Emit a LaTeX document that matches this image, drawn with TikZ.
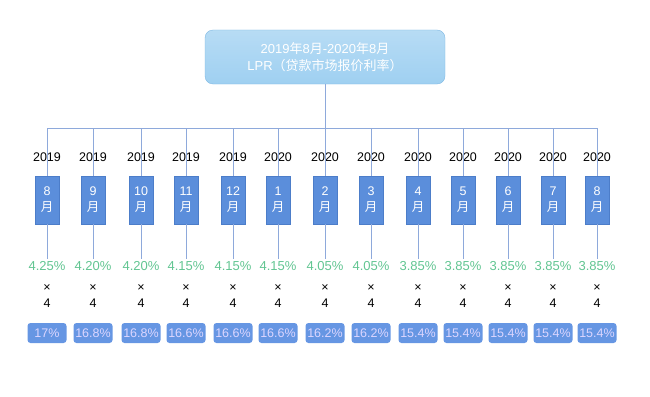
\documentclass[tikz,border=0pt]{standalone}
\usepackage{fontspec}
\setmainfont{Liberation Sans}
\newfontfamily\cjk{Noto Sans CJK SC}
\definecolor{topfill}{HTML}{9FD0F1}
\definecolor{topline}{HTML}{7FB8E3}
\definecolor{monfill}{HTML}{5B8EDB}
\definecolor{monline}{HTML}{4C7DC9}
\definecolor{rategreen}{HTML}{62C592}
\definecolor{resfill}{HTML}{6696E3}
\definecolor{restext}{HTML}{DCD6FF}
\definecolor{wire}{HTML}{8EA9DB}
\tikzset{
  topbox/.style={draw=topline,top color=topfill!75!white,bottom color=topfill,rounded corners=8pt,
    minimum width=240pt,minimum height=54pt,text=white,align=center,font=\fontsize{13}{17}\selectfont},
  monbox/.style={draw=monline,fill=monfill,minimum width=24pt,minimum height=48pt,inner sep=1pt,
    text=white,align=center,font=\fontsize{12.5}{16}\selectfont},
  yrlabel/.style={font=\fontsize{12.5}{15}\selectfont},
  ratelabel/.style={text=rategreen,font=\fontsize{13}{15}\selectfont,inner sep=2pt},
  mullabel/.style={font=\fontsize{12.5}{15}\selectfont,inner sep=0pt},
  resbox/.style={fill=resfill,rounded corners=3pt,minimum width=39pt,minimum height=20pt,inner sep=0pt,
    text=restext,font=\fontsize{12.5}{15}\selectfont},
  wireline/.style={draw=wire,line width=0.8pt}
}
\begin{document}
\begin{tikzpicture}[x=1pt,y=-1pt]
\useasboundingbox (0,0) rectangle (650,396);
\node[topbox] (top) at (325,57) {2019{\cjk 年}8{\cjk 月}-2020{\cjk 年}8{\cjk 月}\\LPR{\cjk （贷款市场报价利率）}};
\foreach \x/\yr/\mo/\rate/\res [count=\i] in {47/2019/8/4.25/17,93/2019/9/4.20/16.8,141/2019/10/4.20/16.8,
  186/2019/11/4.15/16.6,233/2019/12/4.15/16.6,278/2020/1/4.15/16.6,325/2020/2/4.05/16.2,
  371/2020/3/4.05/16.2,418/2020/4/3.85/15.4,463/2020/5/3.85/15.4,508/2020/6/3.85/15.4,
  553/2020/7/3.85/15.4,597/2020/8/3.85/15.4}
{
  \coordinate (bus\i) at (\x,128);
  \node[yrlabel] (yr\i) at (\x,157) {\yr};
  \node[monbox] (mo\i) at (\x,200) {\mo\\{\cjk 月}};
  \node[ratelabel] (rt\i) at (\x,266) {\rate\%};
  \node[mullabel] (x\i) at (\x,288) {×};
  \node[mullabel] (n\i) at (\x,303) {4};
  \node[resbox] (rs\i) at (\x,333) {\res\%};
  \draw[wireline] (bus\i) -- (mo\i.north);
  \draw[wireline] (mo\i.south) -- (rt\i.north);
}
\draw[wireline] (bus1) -- (bus13);
\draw[wireline] (top.south) -- (top.south |- bus1);
\end{tikzpicture}
\end{document}
